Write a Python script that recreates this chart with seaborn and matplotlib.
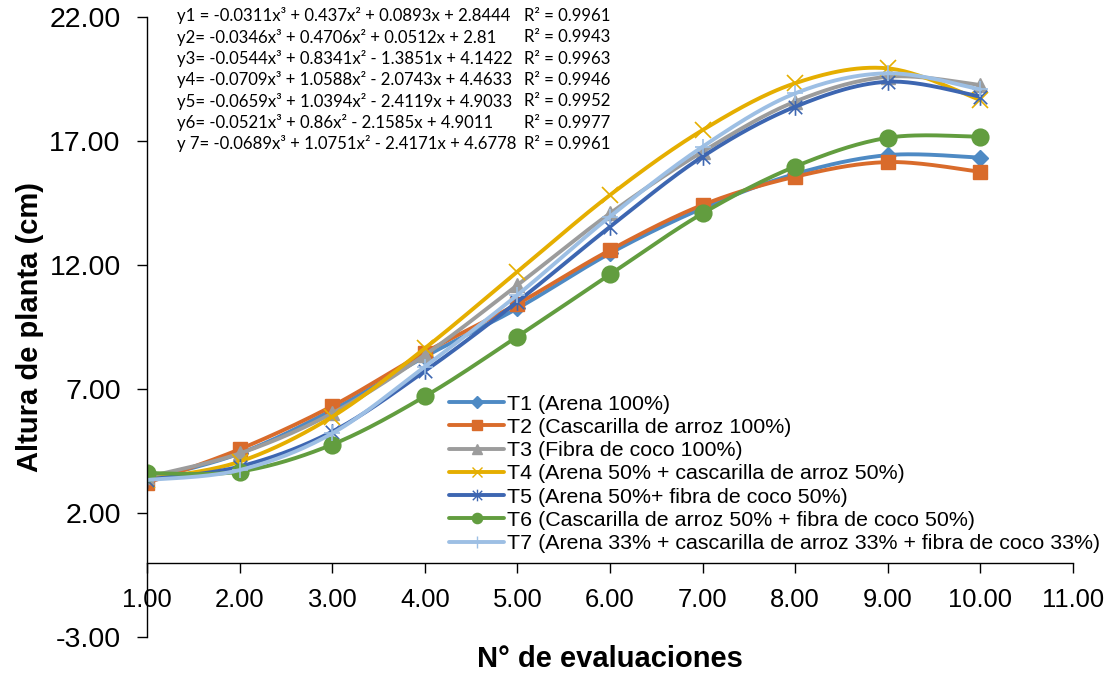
import numpy as np
import pandas as pd
import matplotlib
matplotlib.use("Agg")
import matplotlib.pyplot as plt
from matplotlib.path import Path
from matplotlib.lines import Line2D
import seaborn as sns

# Plant height (cm) per evaluation for each substrate treatment
evaluations = [1, 2, 3, 4, 5, 6, 7, 8, 9, 10]
t1 = [3.35, 4.40, 6.15, 8.30, 10.25, 12.47, 14.29, 15.67, 16.43, 16.33]
t2 = [3.21, 4.57, 6.31, 8.47, 10.43, 12.60, 14.42, 15.56, 16.15, 15.76]
t3 = [3.45, 4.40, 6.02, 8.37, 11.19, 14.08, 16.57, 18.59, 19.59, 19.26]
t4 = [3.35, 4.07, 5.88, 8.64, 11.73, 14.82, 17.44, 19.33, 19.93, 18.65]
t5 = [3.35, 3.87, 5.28, 7.72, 10.52, 13.54, 16.37, 18.38, 19.39, 18.79]
t6 = [3.61, 3.67, 4.76, 6.70, 9.11, 11.62, 14.08, 15.97, 17.13, 17.17]
t7 = [3.33, 3.73, 5.21, 7.90, 10.79, 13.95, 16.77, 18.92, 19.73, 19.08]

labels = [
    "T1 (Arena 100%)",
    "T2 (Cascarilla de arroz 100%)",
    "T3 (Fibra de coco 100%)",
    "T4 (Arena 50% + cascarilla de arroz 50%)",
    "T5 (Arena 50%+ fibra de coco 50%)",
    "T6 (Cascarilla de arroz 50% + fibra de coco 50%)",
    "T7 (Arena 33% + cascarilla de arroz 33% + fibra de coco 33%)",
]

equations = [
    "y1 = -0.0311x³ + 0.437x² + 0.0893x + 2.8444",
    "y2= -0.0346x³ + 0.4706x² + 0.0512x + 2.81",
    "y3= -0.0544x³ + 0.8341x² - 1.3851x + 4.1422",
    "y4= -0.0709x³ + 1.0588x² - 2.0743x + 4.4633",
    "y5= -0.0659x³ + 1.0394x² - 2.4119x + 4.9033",
    "y6= -0.0521x³ + 0.86x² - 2.1585x + 4.9011",
    "y 7= -0.0689x³ + 1.0751x² - 2.4171x + 4.6778",
]
r_squared = ["0.9961", "0.9943", "0.9963", "0.9946", "0.9952", "0.9977", "0.9961"]

y_ticks = [-3, 2, 7, 12, 17, 22]
x_ticks = [1, 2, 3, 4, 5, 6, 7, 8, 9, 10, 11]

series = [t1, t2, t3, t4, t5, t6, t7]
colors = ["#4E8AC4", "#D96B2B", "#9C9C9C", "#E5AE00", "#3D66B1", "#629D3F", "#9DBFE4"]

# asterisk marker: an "x" with a vertical stroke through it
_ast = Path(
    [(-0.5, -0.5), (0.5, 0.5), (-0.5, 0.5), (0.5, -0.5), (0, -0.62), (0, 0.62)],
    [Path.MOVETO, Path.LINETO, Path.MOVETO, Path.LINETO, Path.MOVETO, Path.LINETO],
)
markers = ["D", "s", "^", "x", _ast, "o", "+"]
msizes = [8.5, 10, 9.5, 11, 12, 10.5, 12]
filled = [True, True, True, False, False, True, False]


def smooth(xs, ys, n=30):
    """Bezier smoothing through every point (cardinal spline)."""
    p = np.column_stack([xs, ys]).astype(float)
    ext = np.vstack([p[0], p, p[-1]])
    t = np.linspace(0, 1, n, endpoint=False)[:, None]
    parts = []
    for i in range(len(p) - 1):
        p0, p1, p2, p3 = ext[i], ext[i + 1], ext[i + 2], ext[i + 3]
        b1 = p1 + (p2 - p0) / 6
        b2 = p2 - (p3 - p1) / 6
        parts.append((1 - t) ** 3 * p1 + 3 * (1 - t) ** 2 * t * b1
                     + 3 * (1 - t) * t ** 2 * b2 + t ** 3 * p2)
    parts.append(p[-1:])
    return np.vstack(parts)


sns.set_theme(style="white")
plt.rcParams["font.family"] = ["Liberation Sans", "DejaVu Sans"]
for key in ("text.color", "axes.labelcolor", "xtick.color", "ytick.color"):
    plt.rcParams[key] = "#000000"

fig = plt.figure(figsize=(11.18, 6.74), dpi=100)
ax = fig.add_axes([0.1315, 0.0549, 0.8282, 0.9199])

curves = []
for lab, ys in zip(labels, series):
    c = smooth(evaluations, ys)
    curves.append(pd.DataFrame({"x": c[:, 0], "y": c[:, 1], "serie": lab}))
curves = pd.concat(curves, ignore_index=True)

handles = []
for lab, ys, col, mk, ms, fl in zip(labels, series, colors, markers, msizes, filled):
    sns.lineplot(data=curves[curves["serie"] == lab], x="x", y="y", color=col,
                 lw=2.8, sort=False, estimator=None, ax=ax, legend=False)
    mew = 2.6 if mk == "o" else (1.2 if not fl else 1)
    ax.plot(evaluations, ys, ls="none", marker=mk, ms=ms, color=col,
            mfc=col if fl else "none", mec=col, mew=mew)
    handles.append(Line2D([], [], color=col, lw=2.8, marker=mk,
                          ms=ms * 0.7, mfc=col if fl else "none", mec=col,
                          mew=1.0))

for s in ("top", "right"):
    ax.spines[s].set_visible(False)
ax.spines["bottom"].set_position(("data", 0))
for s in ("left", "bottom"):
    ax.spines[s].set_color("#000000")
    ax.spines[s].set_linewidth(1.0)

ax.set_xlim(1, 11)
ax.set_ylim(-3, 22)
ax.set_xticks(x_ticks)
ax.set_yticks(y_ticks)
ax.set_xticklabels([f"{v:.2f}" for v in x_ticks])
ax.set_yticklabels([f"{v:.2f}" for v in y_ticks])
ax.tick_params(axis="both", which="major", direction="out", length=7,
               width=1.0, color="#000000", left=True, bottom=True)
ax.tick_params(axis="x", pad=11, labelsize=18.4)
ax.tick_params(axis="y", pad=12, labelsize=20.5)
ax.grid(False)

ax.set_xlabel("N° de evaluaciones", fontsize=21, fontweight="bold")
ax.set_ylabel("Altura de planta (cm)", fontsize=21, fontweight="bold")
ax.xaxis.label.set_va("center")
ax.xaxis.set_label_coords(0.5, -0.036)
ax.yaxis.label.set_va("center")
ax.yaxis.set_label_coords(-0.126, 0.5)

leg = ax.legend(handles, labels, loc="upper left", bbox_to_anchor=(0.326, 0.391),
                frameon=False, fontsize=15.4, handlelength=2.6, handletextpad=0.12,
                labelspacing=0.2, borderaxespad=0, borderpad=0)

# fitted trend equations
for i, (eq, r2) in enumerate(zip(equations, r_squared)):
    ypix = 16 + i * 21.3
    fy = 1 - ypix / 674
    fig.text(177 / 1118, fy, eq, fontsize=12.1, family="Lato", va="center", ha="left")
    fig.text(524 / 1118, fy, f"R² = {r2}", fontsize=12.1, family="Lato",
             va="center", ha="left")

fig.savefig("out.png", dpi=100)
